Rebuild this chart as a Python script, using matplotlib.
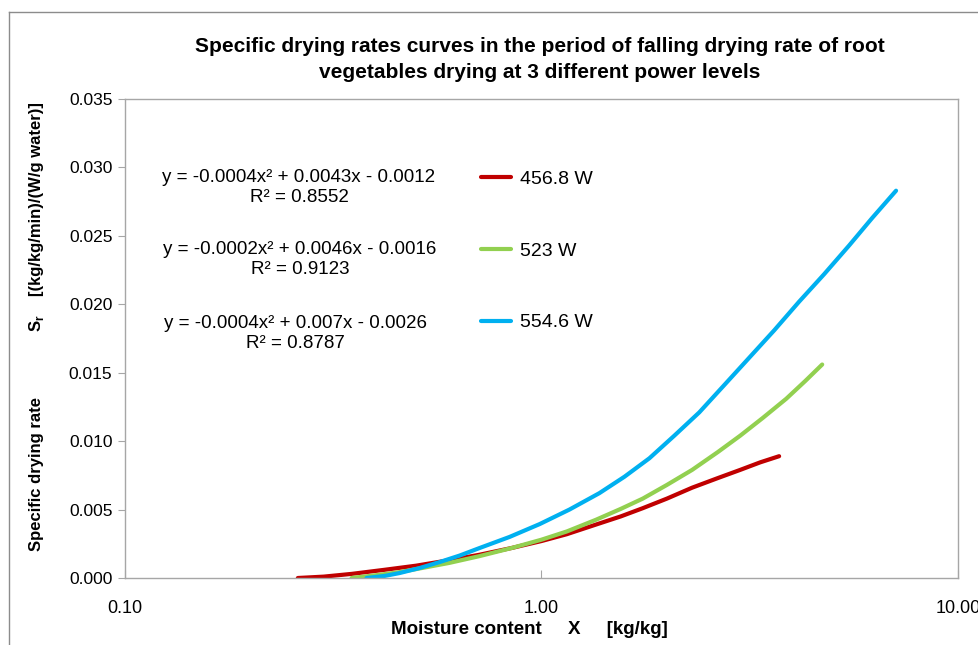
import matplotlib
matplotlib.use("Agg")
import matplotlib.pyplot as plt
from matplotlib import font_manager
from matplotlib.lines import Line2D
from matplotlib.ticker import FixedLocator, FixedFormatter, NullLocator

# Data (moisture content X [kg/kg], specific drying rate)
x_4568 = [0.26, 0.30, 0.35, 0.42, 0.50, 0.60, 0.71, 0.85, 1.00, 1.15, 1.35, 1.55, 1.75,
          2.00, 2.30, 2.65, 3.00, 3.35, 3.72]
y_4568 = [0.0, 0.0001, 0.0003, 0.0006, 0.0009, 0.0013, 0.0017, 0.0022, 0.0027, 0.0032, 0.0039,
          0.0045, 0.0051, 0.0058, 0.0066, 0.0073, 0.0079, 0.00845, 0.0089]

x_523 = [0.35, 0.40, 0.45, 0.50, 0.60, 0.71, 0.85, 1.00, 1.15, 1.35, 1.55, 1.75, 2.00, 2.30,
         2.65, 3.00, 3.40, 3.87, 4.30, 4.72]
y_523 = [0.0, 0.0002, 0.0004, 0.00065, 0.0011, 0.0016, 0.0022, 0.0028, 0.0034, 0.00425, 0.00505,
         0.0058, 0.0068, 0.0079, 0.0092, 0.0104, 0.0117, 0.0131, 0.0144, 0.0156]

x_5546 = [0.38, 0.42, 0.456, 0.51, 0.57, 0.636, 0.71, 0.838, 0.99, 1.167, 1.377, 1.582, 1.816,
          2.084, 2.392, 2.747, 3.154, 3.621, 4.157, 4.771, 5.479, 6.22, 7.10]
y_5546 = [0.0, 0.00015, 0.00036, 0.00073, 0.00117, 0.00164, 0.00219, 0.0030, 0.00394, 0.0050,
          0.0062, 0.0074, 0.00875, 0.0104, 0.0121, 0.0141, 0.0161, 0.0181, 0.0202, 0.0222,
          0.0243, 0.0263, 0.0283]

series_labels = ["456.8 W", "523 W", "554.6 W"]
series_colors = ["#C00000", "#92D050", "#00B0F0"]

trend_eqs = ["y = -0.0004x² + 0.0043x - 0.0012", "y = -0.0002x² + 0.0046x - 0.0016",
             "y = -0.0004x² + 0.007x - 0.0026"]
trend_r2 = ["R² = 0.8552", "R² = 0.9123", "R² = 0.8787"]

y_ticks = [0.0, 0.005, 0.010, 0.015, 0.020, 0.025, 0.030, 0.035]
x_ticks = [0.1, 1.0, 10.0]
x_tick_labels = ["0.10", "1.00", "10.00"]

# fonts: Arial-like, narrow one for title / x axis if it exists
installed = {f.name for f in font_manager.fontManager.ttflist}
SANS = "Liberation Sans"
NARROW = "Liberation Sans Narrow" if "Liberation Sans Narrow" in installed else SANS
plt.rcParams["font.family"] = SANS
plt.rcParams["mathtext.fontset"] = "custom"
plt.rcParams["mathtext.rm"] = SANS
plt.rcParams["mathtext.bf"] = SANS + ":bold"

W, H = 979, 645
fig = plt.figure(figsize=(W / 100, H / 100), dpi=100)
ax = fig.add_axes([125 / W, 1 - 578 / H, (958 - 125) / W, (578 - 99) / H])

# outer chart border (cut off at right/bottom like the reference)
fig.add_artist(Line2D([9 / W, 1], [1 - 12 / H, 1 - 12 / H], transform=fig.transFigure, color="#8C8C8C", lw=1))
fig.add_artist(Line2D([9 / W, 9 / W], [0, 1 - 12 / H], transform=fig.transFigure, color="#8C8C8C", lw=1))

for xs, ys, lab, col in zip([x_4568, x_523, x_5546], [y_4568, y_523, y_5546], series_labels, series_colors):
    ax.plot(xs, ys, color=col, lw=3, label=lab, solid_capstyle="round", solid_joinstyle="round")

ax.set_xscale("log")
ax.set_xlim(0.1, 10)
ax.set_ylim(0, 0.035)
ax.xaxis.set_major_locator(FixedLocator(x_ticks))
ax.xaxis.set_major_formatter(FixedFormatter(x_tick_labels))
ax.xaxis.set_minor_locator(NullLocator())
ax.set_yticks(y_ticks)
ax.set_yticklabels(["%.3f" % v for v in y_ticks])

for sp in ax.spines.values():
    sp.set_color("#A6A6A6")
    sp.set_linewidth(1)

ax.tick_params(axis="y", direction="out", length=5, color="#A6A6A6", labelsize=12.5, pad=4)
ax.tick_params(axis="x", direction="in", length=6, color="#A6A6A6", labelsize=13, pad=16)
for t in ax.get_xticklabels():
    t.set_fontfamily(NARROW)

# trendline equations
eq_y = [178, 249, 323]
for eq, r2, yy, xc in zip(trend_eqs, trend_r2, eq_y, [299, 300, 295]):
    fig.text(xc / W, 1 - yy / H, eq, ha="center", va="center", fontsize=13.5)
    fig.text(xc / W, 1 - (yy + 20) / H, r2, ha="center", va="center", fontsize=13.5)

ax.legend(loc="upper left", bbox_to_anchor=((464 - 125) / (958 - 125), (578 - 153) / (578 - 99)),
          frameon=False, fontsize=14, handlelength=1.5, handletextpad=0.5, labelspacing=2.78)

fig.text(540 / W, 1 - 46 / H, "Specific drying rates curves in the period of falling drying rate of root",
         ha="center", va="center", fontsize=15, fontweight="bold", family=NARROW)
fig.text(540 / W, 1 - 72 / H, "vegetables drying at 3 different power levels",
         ha="center", va="center", fontsize=15, fontweight="bold", family=NARROW)

fig.text(529 / W, 1 - 630 / H, "Moisture content     X     [kg/kg]",
         ha="center", va="center", fontsize=13.5, fontweight="bold", family=NARROW)

# y axis title in three parts, spaced like the reference
fig.text(37 / W, 1 - 474 / H, "Specific drying rate", ha="center", va="center",
         rotation=90, fontsize=12, fontweight="bold")
fig.text(37 / W, 1 - 323 / H, r"$\mathbf{S}_\mathbf{r}$", ha="center", va="center",
         rotation=90, fontsize=12, fontweight="bold")
fig.text(37 / W, 1 - 199 / H, "[(kg/kg/min)/(W/g water)]", ha="center", va="center",
         rotation=90, fontsize=12, fontweight="bold")

fig.savefig("out.png", dpi=100)
